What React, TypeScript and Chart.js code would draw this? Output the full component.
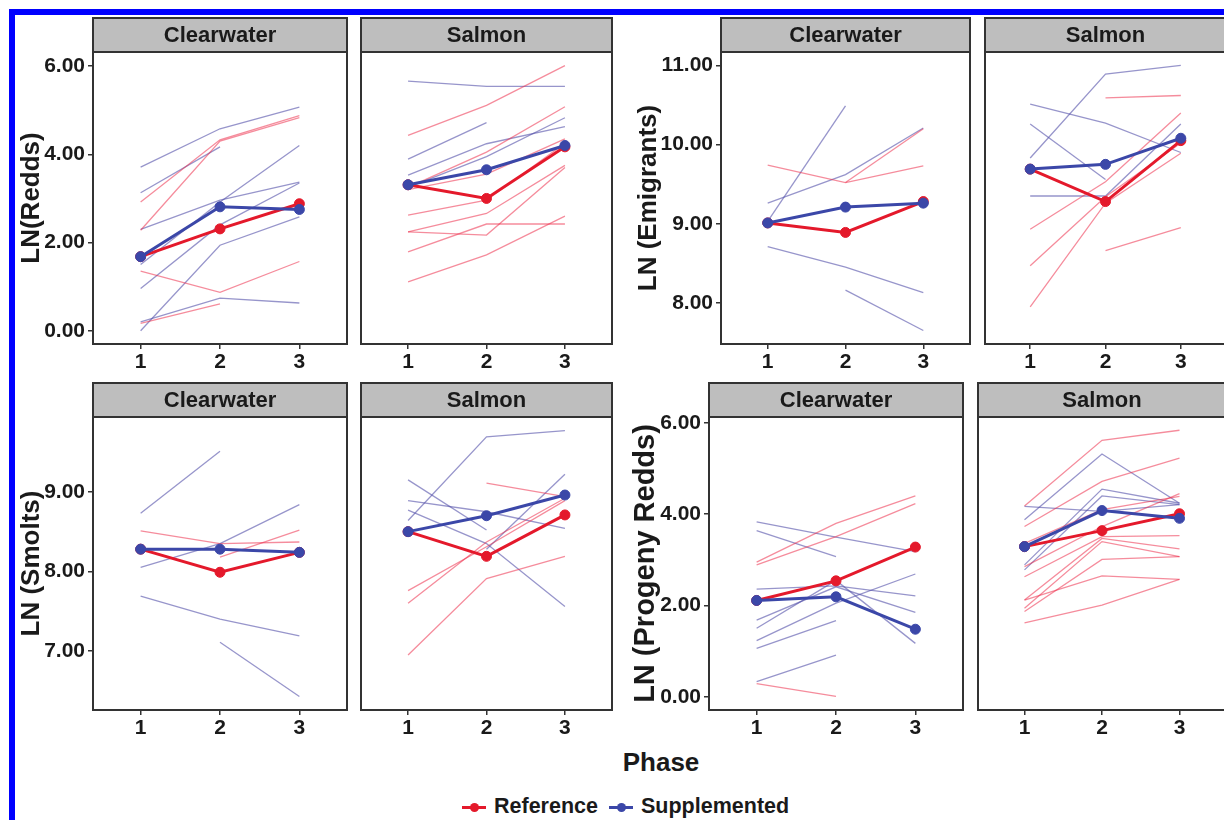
import React, { useEffect, useRef } from 'react';
import { Chart, registerables } from 'chart.js';

Chart.register(...registerables);

const FONT = '"Liberation Sans", Arial, Helvetica, sans-serif';
Chart.defaults.font.family = FONT;

const RED = '#E4192B';
const BLUE = '#3B47A8';
const RED_THIN = 'rgba(236, 45, 75, 0.55)';
const BLUE_THIN = 'rgba(82, 78, 168, 0.6)';
const TEXT = '#1a1a1a';
const BORDER = '#333333';
const STRIP_FILL = '#BEBEBE';

type Series = (number | null)[];

// ---------- data ----------
const phases = [1, 2, 3];
const rivers = ['Clearwater', 'Salmon'];
const legendLabels = ['Reference', 'Supplemented'];
const xTitle = 'Phase';

// LN(Redds)
const reddsTicks = [0, 2, 4, 6];
const reddsRange = [-0.3, 6.32];
const reddsCwRefMean: Series = [1.68, 2.31, 2.88];
const reddsCwSupMean: Series = [1.68, 2.81, 2.75];
const reddsCwRef: Series[] = [
  [2.92, 4.33, 4.88],
  [2.28, 4.3, 4.83],
  [1.35, 0.87, 1.57],
  [0.17, 0.61, null],
];
const reddsCwSup: Series[] = [
  [3.71, 4.58, 5.07],
  [3.13, 4.17, null],
  [2.3, 2.96, 3.37],
  [1.5, 2.92, 4.2],
  [0.96, 2.4, 3.35],
  [0.0, 1.94, 2.58],
  [0.2, 0.74, 0.63],
];
const reddsSaRefMean: Series = [3.31, 3.0, 4.17];
const reddsSaSupMean: Series = [3.31, 3.65, 4.2];
const reddsSaRef: Series[] = [
  [4.43, 5.11, 6.01],
  [3.25, 4.05, 5.08],
  [3.2, 3.55, 4.35],
  [2.62, 2.96, 4.25],
  [2.24, 2.66, 3.75],
  [2.24, 2.17, 3.7],
  [1.79, 2.42, 2.42],
  [1.11, 1.72, 2.6],
];
const reddsSaSup: Series[] = [
  [5.66, 5.54, 5.54],
  [3.89, 4.72, null],
  [3.53, 4.24, 4.63],
  [3.25, 3.95, 4.83],
];

// LN (Emigrants)
const emigTicks = [8, 9, 10, 11];
const emigRange = [7.48, 11.17];
const emigCwRefMean: Series = [9.01, 8.89, 9.28];
const emigCwSupMean: Series = [9.01, 9.21, 9.26];
const emigCwRef: Series[] = [
  [9.74, 9.52, 9.73],
  [null, 9.52, 10.2],
];
const emigCwSup: Series[] = [
  [9.03, 10.49, null],
  [9.26, 9.62, 10.21],
  [8.71, 8.45, 8.13],
  [null, 8.16, 7.65],
];
const emigSaRefMean: Series = [9.69, 9.28, 10.05];
const emigSaSupMean: Series = [9.69, 9.75, 10.08];
const emigSaRef: Series[] = [
  [null, 10.59, 10.62],
  [8.93, 9.53, 10.4],
  [8.47, 9.34, 10.02],
  [7.95, 9.26, 9.89],
  [null, 8.66, 8.95],
];
const emigSaSup: Series[] = [
  [9.83, 10.89, 11.0],
  [10.51, 10.27, 9.9],
  [10.26, 9.56, null],
  [9.35, 9.35, 10.26],
];

// LN (Smolts)
const smoltTicks = [7, 8, 9];
const smoltRange = [6.26, 9.94];
const smoltCwRefMean: Series = [8.28, 7.99, 8.24];
const smoltCwSupMean: Series = [8.28, 8.28, 8.24];
const smoltCwRef: Series[] = [
  [8.51, 8.35, 8.37],
  [null, 8.18, 8.52],
];
const smoltCwSup: Series[] = [
  [8.73, 9.51, null],
  [8.05, 8.35, 8.84],
  [7.69, 7.4, 7.19],
  [null, 7.11, 6.43],
];
const smoltSaRefMean: Series = [8.5, 8.19, 8.71];
const smoltSaSupMean: Series = [8.5, 8.7, 8.96];
const smoltSaRef: Series[] = [
  [null, 9.11, 8.94],
  [7.76, 8.31, 8.89],
  [7.6, 8.37, 8.92],
  [6.95, 7.91, 8.19],
];
const smoltSaSup: Series[] = [
  [8.64, 9.69, 9.77],
  [9.15, 8.52, null],
  [8.89, 8.75, 8.54],
  [8.77, 8.35, 7.56],
  [null, 8.28, 9.22],
];

// LN (Progeny Redds)
const progTicks = [0, 2, 4, 6];
const progRange = [-0.29, 6.13];
const progCwRefMean: Series = [2.11, 2.54, 3.28];
const progCwSupMean: Series = [2.11, 2.19, 1.48];
const progCwRef: Series[] = [
  [2.95, 3.8, 4.4],
  [2.89, 3.51, 4.23],
  [0.29, 0.01, null],
];
const progCwSup: Series[] = [
  [3.83, 3.5, 3.18],
  [3.64, 3.07, null],
  [2.36, 2.43, 2.21],
  [1.68, 2.41, 1.85],
  [1.5, 2.55, 1.17],
  [1.23, 2.05, 2.69],
  [1.06, 1.67, null],
  [0.33, 0.91, null],
];
const progSaRefMean: Series = [3.29, 3.64, 4.01];
const progSaSupMean: Series = [3.29, 4.08, 3.91];
const progSaRef: Series[] = [
  [4.18, 5.62, 5.84],
  [3.73, 4.72, 5.23],
  [3.36, 4.1, 4.39],
  [2.85, 3.73, 4.45],
  [2.63, 3.51, 3.53],
  [2.12, 3.47, 3.24],
  [1.94, 3.4, 3.07],
  [2.12, 2.65, 2.57],
  [1.87, 3.01, 3.07],
  [1.62, 2.01, 2.57],
];
const progSaSup: Series[] = [
  [3.88, 5.32, 4.24],
  [4.17, 4.06, 4.21],
  [2.89, 4.55, 4.24],
  [2.78, 4.4, 4.21],
];

// ---------- layout constants ----------
const STRIP_H = 34;
const PAD_TOP = 36;
const XAXIS_H = 32;
const PAD_RIGHT = 2;

interface PanelDef {
  strip: string;
  x0: number;
  x1: number;
  top: number;
  bottom: number;
  range: number[];
  yTicks: number[];
  yTitle?: string;
  yTitleSize?: number;
  yAxisW?: number;
  titlePad?: number;
  refMean: Series;
  supMean: Series;
  refLines: Series[];
  supLines: Series[];
}

const toPts = (s: Series) => s.map((y, i) => ({ x: phases[i], y }));

function Panel(p: PanelDef) {
  const ref = useRef<HTMLCanvasElement>(null);
  const yW = p.yAxisW || 0;
  const padLeft = yW ? 0 : 2;
  const left = p.x0 - yW - padLeft;
  const width = p.x1 - p.x0 + yW + padLeft + PAD_RIGHT;
  const height = PAD_TOP + (p.bottom - p.top) + XAXIS_H;
  const top = p.top - PAD_TOP;

  useEffect(() => {
    const framePlugin = {
      id: 'facetFrame',
      afterDraw(chart: any) {
        const { ctx, chartArea: a } = chart;
        ctx.save();
        ctx.fillStyle = STRIP_FILL;
        ctx.fillRect(a.left, a.top - STRIP_H, a.right - a.left, STRIP_H);
        ctx.lineWidth = 2;
        ctx.strokeStyle = BORDER;
        ctx.strokeRect(a.left, a.top - STRIP_H, a.right - a.left, STRIP_H);
        ctx.strokeRect(a.left, a.top, a.right - a.left, a.bottom - a.top);
        ctx.fillStyle = TEXT;
        ctx.font = `bold 22px ${FONT}`;
        ctx.textAlign = 'center';
        ctx.textBaseline = 'middle';
        ctx.fillText(p.strip, (a.left + a.right) / 2, a.top - STRIP_H / 2 + 1);
        ctx.restore();
      },
    };

    const thin = (s: Series, color: string, i: number) => ({
      data: toPts(s),
      borderColor: color,
      backgroundColor: color,
      borderWidth: 1.3,
      pointRadius: 0,
      fill: false,
      spanGaps: false,
      order: 3 + i,
    });
    const mean = (s: Series, color: string, order: number, label: string) => ({
      label,
      data: toPts(s),
      borderColor: color,
      backgroundColor: color,
      pointBackgroundColor: color,
      pointBorderColor: color,
      borderWidth: 3,
      pointRadius: 5,
      pointBorderWidth: 1,
      fill: false,
      order,
    });

    const datasets: any[] = [
      mean(p.supMean, BLUE, 0, legendLabels[1]),
      mean(p.refMean, RED, 1, legendLabels[0]),
      ...p.refLines.map((s, i) => thin(s, RED_THIN, i)),
      ...p.supLines.map((s, i) => thin(s, BLUE_THIN, 20 + i)),
    ];

    const tickGrid = {
      display: true,
      drawOnChartArea: false,
      drawTicks: true,
      tickLength: 5,
      color: BORDER,
      lineWidth: 1.5,
    };

    const chart = new Chart(ref.current as HTMLCanvasElement, {
      type: 'line',
      data: { datasets },
      plugins: [framePlugin],
      options: {
        responsive: false,
        maintainAspectRatio: false,
        animation: false,
        events: [],
        layout: { padding: { top: PAD_TOP, left: padLeft, right: PAD_RIGHT, bottom: 0 } },
        plugins: {
          legend: { display: false },
          tooltip: { enabled: false },
          title: { display: false },
        },
        scales: {
          x: {
            type: 'linear',
            bounds: 'data',
            min: 0.4,
            max: 3.6,
            afterBuildTicks: (s: any) => {
              s.ticks = phases.map((v) => ({ value: v }));
            },
            afterFit: (s: any) => {
              s.height = XAXIS_H;
            },
            grid: tickGrid,
            border: { display: false },
            ticks: {
              autoSkip: false,
              maxRotation: 0,
              padding: 1,
              color: TEXT,
              font: { size: 21, weight: 'bold', family: FONT },
              callback: (v: any) => String(v),
            },
          },
          y: {
            type: 'linear',
            display: yW > 0,
            bounds: 'data',
            min: p.range[0],
            max: p.range[1],
            afterBuildTicks: (s: any) => {
              s.ticks = p.yTicks.map((v) => ({ value: v }));
            },
            afterFit: (s: any) => {
              s.width = yW;
            },
            grid: tickGrid,
            border: { display: false },
            ticks: {
              autoSkip: false,
              padding: 3,
              color: TEXT,
              font: { size: 21, weight: 'bold', family: FONT },
              callback: (v: any) => Number(v).toFixed(2),
            },
            title: {
              display: !!p.yTitle,
              text: p.yTitle || '',
              color: TEXT,
              font: { size: p.yTitleSize || 26, weight: 'bold', family: FONT },
              padding: { top: p.titlePad || 0, bottom: 0 },
            },
          },
        },
      } as any,
    });
    return () => chart.destroy();
  }, []);

  return (
    <canvas
      ref={ref}
      width={width}
      height={height}
      style={{ position: 'absolute', left, top, width, height, display: 'block' }}
    />
  );
}

const panels: PanelDef[] = [
  {
    strip: rivers[0], x0: 93, x1: 351, top: 52, bottom: 344, range: reddsRange, yTicks: reddsTicks,
    yTitle: 'LN(Redds)', yAxisW: 77, titlePad: 0,
    refMean: reddsCwRefMean, supMean: reddsCwSupMean, refLines: reddsCwRef, supLines: reddsCwSup,
  },
  {
    strip: rivers[1], x0: 357, x1: 616, top: 52, bottom: 344, range: reddsRange, yTicks: reddsTicks,
    refMean: reddsSaRefMean, supMean: reddsSaSupMean, refLines: reddsSaRef, supLines: reddsSaSup,
  },
  {
    strip: rivers[0], x0: 721, x1: 974, top: 52, bottom: 344, range: emigRange, yTicks: emigTicks,
    yTitle: 'LN (Emigrants)', yAxisW: 101, titlePad: 13,
    refMean: emigCwRefMean, supMean: emigCwSupMean, refLines: emigCwRef, supLines: emigCwSup,
  },
  {
    strip: rivers[1], x0: 981, x1: 1230, top: 52, bottom: 344, range: emigRange, yTicks: emigTicks,
    refMean: emigSaRefMean, supMean: emigSaSupMean, refLines: emigSaRef, supLines: emigSaSup,
  },
  {
    strip: rivers[0], x0: 93, x1: 351, top: 417, bottom: 710, range: smoltRange, yTicks: smoltTicks,
    yTitle: 'LN (Smolts)', yAxisW: 77, titlePad: 0,
    refMean: smoltCwRefMean, supMean: smoltCwSupMean, refLines: smoltCwRef, supLines: smoltCwSup,
  },
  {
    strip: rivers[1], x0: 357, x1: 616, top: 417, bottom: 710, range: smoltRange, yTicks: smoltTicks,
    refMean: smoltSaRefMean, supMean: smoltSaSupMean, refLines: smoltSaRef, supLines: smoltSaSup,
  },
  {
    strip: rivers[0], x0: 709, x1: 967, top: 417, bottom: 710, range: progRange, yTicks: progTicks,
    yTitle: 'LN (Progeny Redds)', yTitleSize: 29, yAxisW: 89, titlePad: 9,
    refMean: progCwRefMean, supMean: progCwSupMean, refLines: progCwRef, supLines: progCwSup,
  },
  {
    strip: rivers[1], x0: 974, x1: 1230, top: 417, bottom: 710, range: progRange, yTicks: progTicks,
    refMean: progSaRefMean, supMean: progSaSupMean, refLines: progSaRef, supLines: progSaSup,
  },
];

function LegendKey({ x, y, color, label }: { x: number; y: number; color: string; label: string }) {
  return (
    <>
      <div style={{ position: 'absolute', left: x, top: y - 1.5, width: 24, height: 3, background: color }} />
      <div
        style={{
          position: 'absolute', left: x + 12 - 4.5, top: y - 4.5, width: 9, height: 9,
          borderRadius: '50%', background: color,
        }}
      />
      <div
        style={{
          position: 'absolute', left: x + 32, top: y, transform: 'translateY(-50%)',
          font: `bold 21.5px ${FONT}`, color: TEXT, lineHeight: 1, whiteSpace: 'nowrap',
        }}
      >
        {label}
      </div>
    </>
  );
}

export default function App() {
  return (
    <div
      style={{
        position: 'fixed', left: 0, top: 0, width: 1224, height: 820, overflow: 'hidden',
        background: '#ffffff',
      }}
    >
      <div style={{ position: 'absolute', left: 9, top: 9, width: 1215, height: 6, background: '#0000FF' }} />
      <div style={{ position: 'absolute', left: 9, top: 9, width: 6, height: 811, background: '#0000FF' }} />
      {panels.map((p, i) => (
        <Panel key={i} {...p} />
      ))}
      <div
        style={{
          position: 'absolute', left: 661, top: 762, transform: 'translate(-50%, -50%)',
          font: `bold 26px ${FONT}`, color: TEXT, lineHeight: 1, whiteSpace: 'nowrap',
        }}
      >
        {xTitle}
      </div>
      <LegendKey x={462} y={807} color={RED} label={legendLabels[0]} />
      <LegendKey x={609} y={807} color={BLUE} label={legendLabels[1]} />
    </div>
  );
}
